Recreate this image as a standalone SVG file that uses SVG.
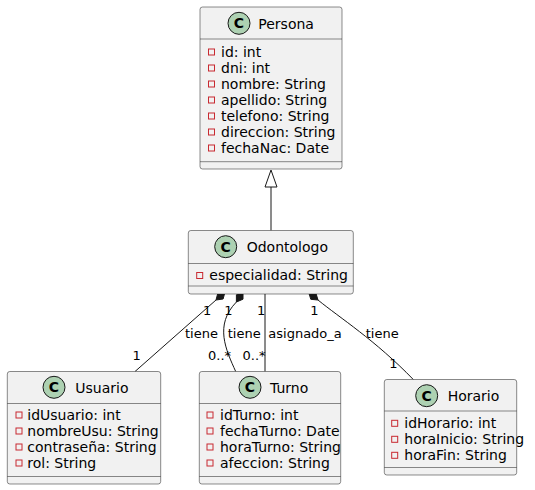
<svg xmlns="http://www.w3.org/2000/svg" width="535" height="490" viewBox="0 0 535 490">
<style>
.box{fill:#F1F1F1;stroke:#181818;stroke-width:0.5}
.sep{stroke:#181818;stroke-width:0.5}
.circ{fill:#ADD1B2;stroke:#181818;stroke-width:1}
.cl{font-family:"DejaVu Sans",sans-serif;font-size:14px;font-weight:bold;fill:#000;text-anchor:middle}
.t{font-family:"DejaVu Sans",sans-serif;font-size:14px;fill:#000}
.lb{font-family:"DejaVu Sans",sans-serif;font-size:13px;fill:#000}
.ic{fill:none;stroke:#C82930;stroke-width:1}
.ln{fill:none;stroke:#181818;stroke-width:1}
.dm{fill:#181818;stroke:#181818;stroke-width:1}
.tri{fill:#FFFFFF;stroke:#181818;stroke-width:1}
</style>
<g id="connectors">
<line class="ln" x1="271" y1="187" x2="271" y2="230.5"/>
<polygon class="tri" points="271,170 265,187 277,187"/>
<line class="ln" x1="216" y1="300" x2="135" y2="371.5"/>
<polygon class="dm" points="225,292 223.1,299 216,300 217.9,292.9"/>
<path class="ln" d="M236.4,302 C214,325 226,350 235.7,371.5"/>
<polygon class="dm" points="243,292 243,299.2 236.4,302 236.4,294.8"/>
<line class="ln" x1="265" y1="294" x2="265" y2="371.5"/>
<path class="ln" d="M318,300 C340,318 375,340 413.3,379.5"/>
<polygon class="dm" points="308.7,292.4 310.8,299.3 318,300 315.9,293.1"/>
<text class="lb" x="203" y="314.7">1</text>
<text class="lb" x="185" y="337.5">tiene</text>
<text class="lb" x="132.6" y="360.4">1</text>
<text class="lb" x="224.2" y="314.7">1</text>
<text class="lb" x="227.7" y="337.5">tiene</text>
<text class="lb" x="208" y="360">0..*</text>
<text class="lb" x="257" y="314.7">1</text>
<text class="lb" x="268.3" y="337.5">asignado_a</text>
<text class="lb" x="242.5" y="360">0..*</text>
<text class="lb" x="310.2" y="314.7">1</text>
<text class="lb" x="365.7" y="337.5">tiene</text>
<text class="lb" x="389.2" y="368">1</text>
</g>
<g id="Persona">
<rect class="box" x="200" y="7" width="142" height="162" rx="2.5"/>
<circle class="circ" cx="239" cy="23.3" r="11"/>
<text class="cl" x="239" y="28.3">C</text>
<text class="t" x="258.3" y="28.5">Persona</text>
<line class="sep" x1="200" y1="39" x2="342" y2="39"/>
<rect class="ic" x="208.5" y="49" width="6" height="6"/>
<text class="t" x="221" y="56.7">id: int</text>
<rect class="ic" x="208.5" y="65" width="6" height="6"/>
<text class="t" x="221" y="72.7">dni: int</text>
<rect class="ic" x="208.5" y="81" width="6" height="6"/>
<text class="t" x="221" y="88.7">nombre: String</text>
<rect class="ic" x="208.5" y="97" width="6" height="6"/>
<text class="t" x="221" y="104.7">apellido: String</text>
<rect class="ic" x="208.5" y="113" width="6" height="6"/>
<text class="t" x="221" y="120.7">telefono: String</text>
<rect class="ic" x="208.5" y="129" width="6" height="6"/>
<text class="t" x="221" y="136.7">direccion: String</text>
<rect class="ic" x="208.5" y="145" width="6" height="6"/>
<text class="t" x="221" y="152.7">fechaNac: Date</text>
<line class="sep" x1="200" y1="161.7" x2="342" y2="161.7"/>
</g>
<g id="Odontologo">
<rect class="box" x="188.3" y="230.5" width="165" height="63.5" rx="2.5"/>
<circle class="circ" cx="225.7" cy="246.7" r="11"/>
<text class="cl" x="225.7" y="251.7">C</text>
<text class="t" x="246.7" y="252">Odontologo</text>
<line class="sep" x1="188.3" y1="263.5" x2="353.3" y2="263.5"/>
<rect class="ic" x="196.7" y="272.5" width="6" height="6"/>
<text class="t" x="209.3" y="280">especialidad: String</text>
<line class="sep" x1="188.3" y1="286" x2="353.3" y2="286"/>
</g>
<g id="Usuario">
<rect class="box" x="7.3" y="371.5" width="153.4" height="112.5" rx="2.5"/>
<circle class="circ" cx="54" cy="387.3" r="11"/>
<text class="cl" x="54" y="392.3">C</text>
<text class="t" x="75.3" y="392.5">Usuario</text>
<line class="sep" x1="7.3" y1="403.5" x2="160.7" y2="403.5"/>
<rect class="ic" x="16" y="412" width="6" height="6"/>
<text class="t" x="27.3" y="420">idUsuario: int</text>
<rect class="ic" x="16" y="428" width="6" height="6"/>
<text class="t" x="27.3" y="436">nombreUsu: String</text>
<rect class="ic" x="16" y="444" width="6" height="6"/>
<text class="t" x="27.3" y="452">contraseña: String</text>
<rect class="ic" x="16" y="460" width="6" height="6"/>
<text class="t" x="27.3" y="468">rol: String</text>
<line class="sep" x1="7.3" y1="476.5" x2="160.7" y2="476.5"/>
</g>
<g id="Turno">
<rect class="box" x="199.3" y="371.5" width="141.4" height="112.5" rx="2.5"/>
<circle class="circ" cx="250" cy="387.3" r="11"/>
<text class="cl" x="250" y="392.3">C</text>
<text class="t" x="270" y="392.5">Turno</text>
<line class="sep" x1="199.3" y1="403.5" x2="340.7" y2="403.5"/>
<rect class="ic" x="207" y="412" width="6" height="6"/>
<text class="t" x="220" y="420">idTurno: int</text>
<rect class="ic" x="207" y="428" width="6" height="6"/>
<text class="t" x="220" y="436">fechaTurno: Date</text>
<rect class="ic" x="207" y="444" width="6" height="6"/>
<text class="t" x="220" y="452">horaTurno: String</text>
<rect class="ic" x="207" y="460" width="6" height="6"/>
<text class="t" x="220" y="468">afeccion: String</text>
<line class="sep" x1="199.3" y1="476.5" x2="340.7" y2="476.5"/>
</g>
<g id="Horario">
<rect class="box" x="384.3" y="379.5" width="132.4" height="95.5" rx="2.5"/>
<circle class="circ" cx="426.7" cy="395.7" r="11"/>
<text class="cl" x="426.7" y="400.7">C</text>
<text class="t" x="447.7" y="401">Horario</text>
<line class="sep" x1="384.3" y1="411" x2="516.7" y2="411"/>
<rect class="ic" x="391.7" y="420.3" width="6" height="6"/>
<text class="t" x="404.3" y="428.3">idHorario: int</text>
<rect class="ic" x="391.7" y="436.3" width="6" height="6"/>
<text class="t" x="404.3" y="444.3">horaInicio: String</text>
<rect class="ic" x="391.7" y="452.3" width="6" height="6"/>
<text class="t" x="404.3" y="460.3">horaFin: String</text>
<line class="sep" x1="384.3" y1="467.5" x2="516.7" y2="467.5"/>
</g>
</svg>
